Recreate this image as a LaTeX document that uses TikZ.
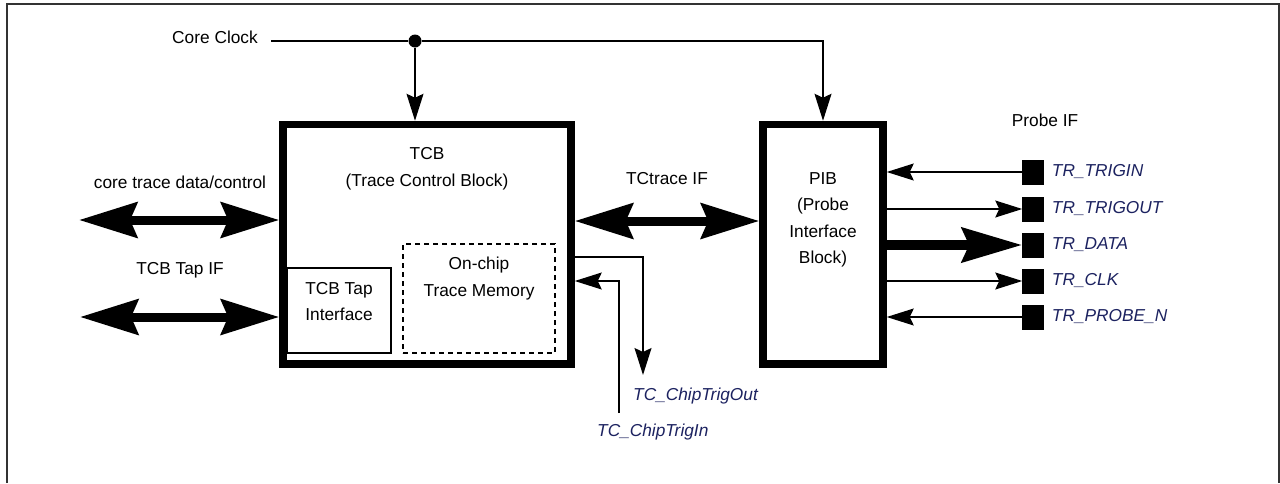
\documentclass[tikz,border=0pt]{standalone}
\usepackage{fontspec}
\setmainfont{Liberation Sans}
\usetikzlibrary{arrows.meta}
\usetikzlibrary{positioning}
\definecolor{sigBlue}{RGB}{28,34,96}
\definecolor{frameGray}{RGB}{51,51,51}

\begin{document}
\begin{tikzpicture}[x=1pt, y=-1pt, font=\fontsize{17.3}{26.5}\selectfont]
\tikzstyle{blockStyle}=[shape = rectangle, draw, line width = 7.5pt, inner sep = 0pt]
\tikzstyle{subStyle}=[shape = rectangle, draw, line width = 1.2pt, inner sep = 0pt]
\tikzstyle{labelStyle}=[inner sep = 0pt, align = center]
\tikzstyle{sigStyle}=[inner sep = 0pt, anchor = west, text = sigBlue, font = \fontsize{17.3}{26.5}\selectfont\itshape]
\tikzstyle{pinStyle}=[shape = rectangle, draw, fill, line width = 0.5pt, minimum width = 21pt, minimum height = 24pt, inner sep = 0pt]
\tikzstyle{dotStyle}=[shape = circle, fill, minimum size = 13pt, inner sep = 0pt]
\tikzstyle{thinArrow}=[line width = 1.3pt, -{Stealth[length=27pt, width=17pt, inset=4pt]}]
\tikzstyle{busArrow}=[line width = 9pt, <->, >={Stealth[length=58pt, width=35pt, inset=7pt]}]
\tikzstyle{dataArrow}=[line width = 10pt, -{Stealth[length=60pt, width=34pt, inset=7pt]}]
\useasboundingbox (0,0) rectangle (1280,483);
\draw[frameGray, line width = 2pt] (7,483) -- (7,4) -- (1279,4) -- (1279,483);
\node[blockStyle, minimum width = 288pt, minimum height = 239.5pt] (tcb) at (427,244.25) {};
\node[blockStyle, minimum width = 120pt, minimum height = 239.5pt] (pib) at (823,244.25) {};
\node[subStyle, minimum width = 104pt, minimum height = 85pt] (tapBox) at (339,310.5) {};
\node[subStyle, dash pattern = on 5pt off 4pt, minimum width = 152pt, minimum height = 109pt] (memBox) at (479,298.5) {};
\node[labelStyle] (tcbText) at (427,168.5) {TCB\\(Trace Control Block)};
\node[labelStyle] (tapText) at (339,301.5) {TCB Tap\\Interface};
\node[labelStyle] (memText) at (479,278.5) {On-chip\\Trace Memory};
\node[labelStyle] (pibText) at (823,220) {PIB\\(Probe\\Interface\\Block)};
\node[labelStyle] (ctdText) at (180,182) {core trace data/control};
\node[labelStyle] (tapIfText) at (180,270) {TCB Tap IF};
\node[labelStyle] (traceIfText) at (667,179) {TCtrace IF};
\node[labelStyle] (probeIfText) at (1045,120) {Probe IF};
\node[labelStyle, anchor = base east] (clkText) at (258,43) {Core Clock};
\node[dotStyle] (clk) at (415,41) {};
\coordinate (clkStart) at (271,41);
\draw[line width = 1.3pt] (clkStart) -- (clk);
\draw[thinArrow] (clk) -- (clk |- tcb.north);
\draw[thinArrow, line width = 1.3pt] (clk.east) -| (pib.north);
\coordinate (ctdEnd) at (79,220);
\coordinate (tapEnd) at (80,317);
\coordinate (traceMid) at (667,221);
\draw[busArrow] (ctdEnd) -- (ctdEnd -| tcb.west);
\draw[busArrow] (tapEnd) -- (tapEnd -| tcb.west);
\draw[busArrow] (traceMid -| tcb.east) -- (traceMid -| pib.west);
\coordinate (trigOutY) at (643,257);
\coordinate (trigOutEnd) at (643,375);
\coordinate (trigInY) at (619,281);
\coordinate (trigInStart) at (619,413);
\draw[thinArrow] (tcb.east |- trigOutY) -| (trigOutEnd);
\draw[thinArrow] (trigInStart) -- (trigInY) -- (trigInY -| tcb.east);
\node[sigStyle] (trigOutText) at (633,396) {TC\_ChipTrigOut};
\node[sigStyle] (trigInText) at (597,432) {TC\_ChipTrigIn};
\node[pinStyle] (pinTrigIn) at (1033,172) {};
\node[pinStyle] (pinTrigOut) at (1033,209) {};
\node[pinStyle] (pinData) at (1033,245) {};
\node[pinStyle] (pinClk) at (1033,281) {};
\node[pinStyle] (pinProbe) at (1033,317) {};
\draw[thinArrow] (pinTrigIn) -- (pinTrigIn -| pib.east);
\draw[thinArrow] (pinTrigOut -| pib.east) -- (pinTrigOut);
\draw[dataArrow] (pinData -| pib.east) -- (pinData);
\draw[thinArrow] (pinClk -| pib.east) -- (pinClk);
\draw[thinArrow] (pinProbe) -- (pinProbe -| pib.east);
\node[sigStyle, right = 8pt of pinTrigIn] (trigInLabel) {TR\_TRIGIN};
\node[sigStyle, right = 8pt of pinTrigOut] (trigOutLabel) {TR\_TRIGOUT};
\node[sigStyle, right = 8pt of pinData] (dataLabel) {TR\_DATA};
\node[sigStyle, right = 8pt of pinClk] (clkLabel) {TR\_CLK};
\node[sigStyle, right = 8pt of pinProbe] (probeLabel) {TR\_PROBE\_N};
\end{tikzpicture}
\end{document}
